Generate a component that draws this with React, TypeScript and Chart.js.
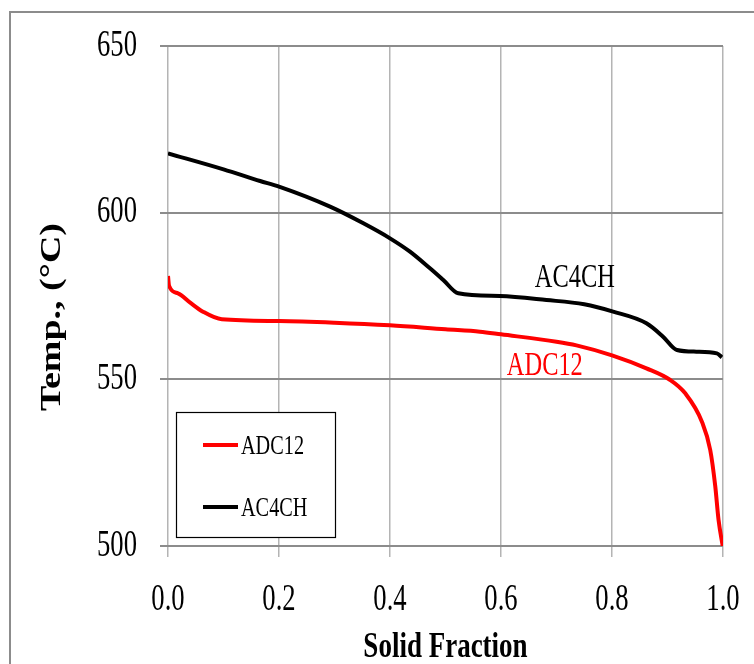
import React, { useEffect, useRef } from 'react';
import { Chart, registerables } from 'chart.js';

Chart.register(...registerables);

// ---- data ----
const adc12Fraction = [0, 0.002, 0.018, 0.04, 0.063, 0.097, 0.2, 0.3, 0.4, 0.5, 0.562, 0.6, 0.7, 0.736, 0.8, 0.862, 0.905, 0.932, 0.962, 0.977, 0.986, 0.992, 1.0];
const adc12Temp = [581, 578, 575.8, 573, 570.3, 568, 567.5, 567, 566.2, 565, 564.3, 563.5, 561.3, 560.2, 557.2, 553.3, 549.8, 545.8, 537.3, 528.8, 518, 507.8, 499.5];

const ac4chFraction = [0, 0.1, 0.166, 0.2, 0.292, 0.352, 0.4, 0.436, 0.472, 0.496, 0.523, 0.598, 0.682, 0.75, 0.802, 0.862, 0.892, 0.917, 0.952, 0.989, 0.998];
const ac4chTemp = [617.8, 613.0, 609.5, 607.8, 601.8, 596.8, 592.3, 588.3, 583.3, 579.8, 575.8, 575, 573.8, 572.5, 570.3, 566.8, 562.8, 558.8, 558.3, 557.8, 556.6];

const seriesNames = ['ADC12', 'AC4CH'];
const seriesColors = ['#ff0000', '#000000'];

const xTickValues = [0, 0.2, 0.4, 0.6, 0.8, 1.0];
const xTickLabels = ['0.0', '0.2', '0.4', '0.6', '0.8', '1.0'];
const yTickValues = [500, 550, 600, 650];
const yTickLabels = ['500', '550', '600', '650'];

const xTitle = 'Solid Fraction';
const yTitle = 'Temp., (°C)';

// in-plot series labels (data space)
const annotationTexts = ['AC4CH', 'ADC12'];
const annotationX = [0.733, 0.679];
const annotationY = [580.4, 554];
const annotationColors = ['#000000', '#ff0000'];

const SERIF = '"Liberation Serif", "Times New Roman", serif';
const SQ = 0.74;

function squeezed(
  ctx: CanvasRenderingContext2D,
  text: string,
  x: number,
  y: number,
  font: string,
  color: string,
  align: CanvasTextAlign,
  sq: number = SQ
) {
  ctx.save();
  ctx.font = font;
  ctx.fillStyle = color;
  ctx.textAlign = align;
  ctx.textBaseline = 'middle';
  ctx.translate(x, y);
  ctx.scale(sq, 1);
  ctx.fillText(text, 0, 0);
  ctx.restore();
}

const decorPlugin = {
  id: 'decor',
  beforeDraw(chart: any) {
    const ctx: CanvasRenderingContext2D = chart.ctx;
    ctx.save();
    ctx.fillStyle = '#ffffff';
    ctx.fillRect(0, 0, chart.width, chart.height);
    // outer frame (clipped at right/bottom)
    ctx.strokeStyle = '#8c8c8c';
    ctx.lineWidth = 2;
    ctx.beginPath();
    ctx.moveTo(10, chart.height);
    ctx.lineTo(10, 12);
    ctx.lineTo(chart.width, 12);
    ctx.stroke();
    ctx.restore();
  },
  afterDraw(chart: any) {
    const ctx: CanvasRenderingContext2D = chart.ctx;
    const xs = chart.scales.x;
    const ys = chart.scales.y;

    // tick labels
    yTickValues.forEach((v, i) => {
      squeezed(ctx, yTickLabels[i], 137, ys.getPixelForValue(v), `37px ${SERIF}`, '#000', 'right', 0.72);
    });
    xTickValues.forEach((v, i) => {
      squeezed(ctx, xTickLabels[i], xs.getPixelForValue(v), 600, `37px ${SERIF}`, '#000', 'center', 0.72);
    });

    // axis titles
    squeezed(ctx, xTitle, (xs.left + xs.right) / 2, 648, `bold 36px ${SERIF}`, '#000', 'center', 0.75);
    ctx.save();
    ctx.translate(52, 317);
    ctx.rotate(-Math.PI / 2);
    ctx.scale(1, 0.78);
    ctx.font = `bold 38px ${SERIF}`;
    ctx.fillStyle = '#000';
    ctx.textAlign = 'center';
    ctx.textBaseline = 'middle';
    ctx.fillText(yTitle, 0, 0);
    ctx.restore();

    // in-plot labels
    annotationTexts.forEach((t, i) => {
      squeezed(
        ctx,
        t,
        xs.getPixelForValue(annotationX[i]),
        ys.getPixelForValue(annotationY[i]),
        `33px ${SERIF}`,
        annotationColors[i],
        'center',
        0.74
      );
    });

    // legend box
    ctx.save();
    ctx.fillStyle = '#ffffff';
    ctx.fillRect(176.5, 412.5, 159, 125);
    ctx.strokeStyle = '#000000';
    ctx.lineWidth = 1.2;
    ctx.strokeRect(176.5, 412.5, 159, 125);
    const rowsY = [445, 507];
    chart.data.datasets.forEach((ds: any, i: number) => {
      ctx.strokeStyle = ds.borderColor;
      ctx.lineWidth = 4;
      ctx.beginPath();
      ctx.moveTo(203, rowsY[i]);
      ctx.lineTo(238, rowsY[i]);
      ctx.stroke();
      squeezed(ctx, ds.label, 241, rowsY[i] + 2, `27px ${SERIF}`, '#000', 'left', 0.75);
    });
    ctx.restore();
  },
};

export default function App() {
  const canvasRef = useRef<HTMLCanvasElement | null>(null);

  useEffect(() => {
    const canvas = canvasRef.current;
    if (!canvas) return;
    const toPts = (xa: number[], ya: number[]) => xa.map((x, i) => ({ x, y: ya[i] }));
    const chart = new Chart(canvas, {
      type: 'line',
      data: {
        datasets: [
          {
            label: seriesNames[0],
            data: toPts(adc12Fraction, adc12Temp),
            borderColor: seriesColors[0],
            backgroundColor: seriesColors[0],
            borderWidth: 4,
            pointRadius: 0,
            cubicInterpolationMode: 'monotone',
            fill: false,
          },
          {
            label: seriesNames[1],
            data: toPts(ac4chFraction, ac4chTemp),
            borderColor: seriesColors[1],
            backgroundColor: seriesColors[1],
            borderWidth: 4,
            pointRadius: 0,
            cubicInterpolationMode: 'monotone',
            fill: false,
          },
        ],
      },
      options: {
        animation: false,
        responsive: false,
        maintainAspectRatio: false,
        layout: { padding: { left: 0, top: 46, right: 31, bottom: 0 } },
        plugins: {
          legend: { display: false },
          tooltip: { enabled: false },
          title: { display: false },
        },
        scales: {
          x: {
            type: 'linear',
            min: 0,
            max: 1,
            ticks: {
              stepSize: 0.2,
              color: 'rgba(0,0,0,0)',
              callback: (v: any) => {
                const i = xTickValues.findIndex((t) => Math.abs(t - Number(v)) < 1e-6);
                return i >= 0 ? xTickLabels[i] : '';
              },
            },
            grid: { color: '#b4b4b4', lineWidth: 1.5, tickLength: 11, drawTicks: true },
            border: { display: false },
            afterFit: (scale: any) => {
              scale.height = 664 - 546;
            },
          },
          y: {
            type: 'linear',
            min: 500,
            max: 650,
            ticks: {
              stepSize: 50,
              color: 'rgba(0,0,0,0)',
              callback: (v: any) => {
                const i = yTickValues.indexOf(Number(v));
                return i >= 0 ? yTickLabels[i] : '';
              },
            },
            grid: { color: '#8c8c8c', lineWidth: 2, tickLength: 8, drawTicks: true },
            border: { display: false },
            afterFit: (scale: any) => {
              scale.width = 168;
            },
          },
        },
      } as any,
      plugins: [decorPlugin],
    });
    return () => chart.destroy();
  }, []);

  return (
    <div style={{ position: 'absolute', left: 0, top: 0, width: 754, height: 664 }}>
      <canvas ref={canvasRef} width={754} height={664} style={{ width: 754, height: 664, display: 'block' }} />
    </div>
  );
}
